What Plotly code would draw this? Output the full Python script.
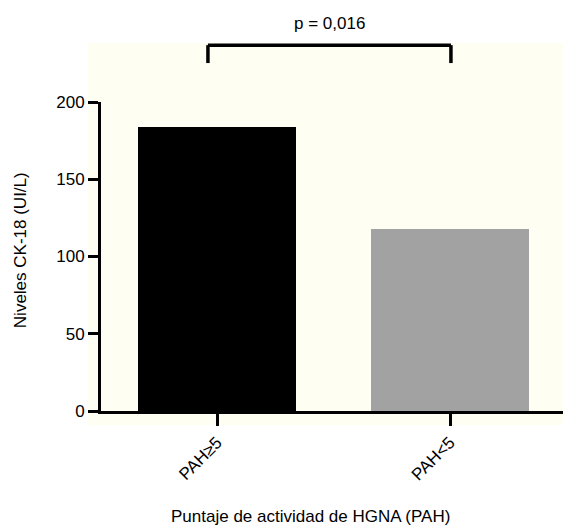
import plotly.graph_objects as go

# ---- data ----
categories = ["PAH≥5", "PAH<5"]
positions = [0, 1]
values = [184, 118]
bar_colors = ["#000000", "#a2a2a2"]
y_ticks = [0, 50, 100, 150, 200]
p_label = "p = 0,016"
y_title = "Niveles CK-18 (UI/L)"
x_title = "Puntaje de actividad de HGNA (PAH)"

FONT = "Liberation Sans, Arial, Helvetica, sans-serif"

fig = go.Figure()
fig.add_trace(go.Bar(
    x=positions, y=values, width=0.68,
    marker=dict(color=bar_colors, line=dict(width=0)),
    showlegend=False, hoverinfo="skip",
))

# background panel
fig.add_shape(type="rect", xref="paper", yref="paper",
              x0=-0.028, x1=1.0, y0=-0.045, y1=1.191,
              fillcolor="#fffef3", line=dict(width=0), layer="below")

# significance bracket
bx0, bx1 = -0.039, 1.004
ytop, ybot = 1.184, 1.126
bline = dict(color="black", width=3.5)
fig.add_shape(type="line", xref="x", yref="paper", x0=bx0, x1=bx1, y0=ytop, y1=ytop, line=bline)
fig.add_shape(type="line", xref="x", yref="paper", x0=bx0, x1=bx0, y0=ytop, y1=ybot, line=bline)
fig.add_shape(type="line", xref="x", yref="paper", x0=bx1, x1=bx1, y0=ytop, y1=ybot, line=bline)

fig.add_annotation(text=p_label, xref="x", yref="paper", x=(bx0 + bx1) / 2, y=1.255,
                   xanchor="center", yanchor="middle",
                   showarrow=False, font=dict(size=17, color="black", family=FONT))
fig.add_annotation(text=x_title, xref="paper", yref="paper", x=0.4545, y=-0.343,
                   xanchor="center", yanchor="middle",
                   showarrow=False, font=dict(size=17, color="black", family=FONT))
fig.add_annotation(text=y_title, xref="paper", yref="paper", x=-0.175, y=0.521,
                   xanchor="center", yanchor="middle",
                   textangle=-90, showarrow=False, font=dict(size=17, color="black", family=FONT))

fig.update_layout(
    width=563, height=530, autosize=False,
    margin=dict(l=101, r=0, t=102, b=119, pad=0),
    paper_bgcolor="white", plot_bgcolor="rgba(0,0,0,0)",
    font=dict(family=FONT, color="black", size=17),
    bargap=0,
)
fig.update_xaxes(
    range=[-0.498, 1.485], tickmode="array", tickvals=positions, ticktext=categories,
    tickangle=-45, showline=True, linecolor="black", linewidth=3,
    ticks="outside", ticklen=12, tickwidth=3, tickcolor="black",
    showgrid=False, zeroline=False, tickfont=dict(size=17, family=FONT),
)
fig.update_yaxes(
    range=[0, 200], tickmode="array", tickvals=y_ticks,
    showline=True, linecolor="black", linewidth=3,
    ticks="outside", ticklen=10, tickwidth=3, tickcolor="black",
    showgrid=False, zeroline=False, tickfont=dict(size=17, family=FONT),
)

fig.write_html(
    "out.html",
    config={"displayModeBar": False},
    post_script="document.body.style.margin='0';document.body.style.padding='0';document.body.style.overflow='hidden';",
)
